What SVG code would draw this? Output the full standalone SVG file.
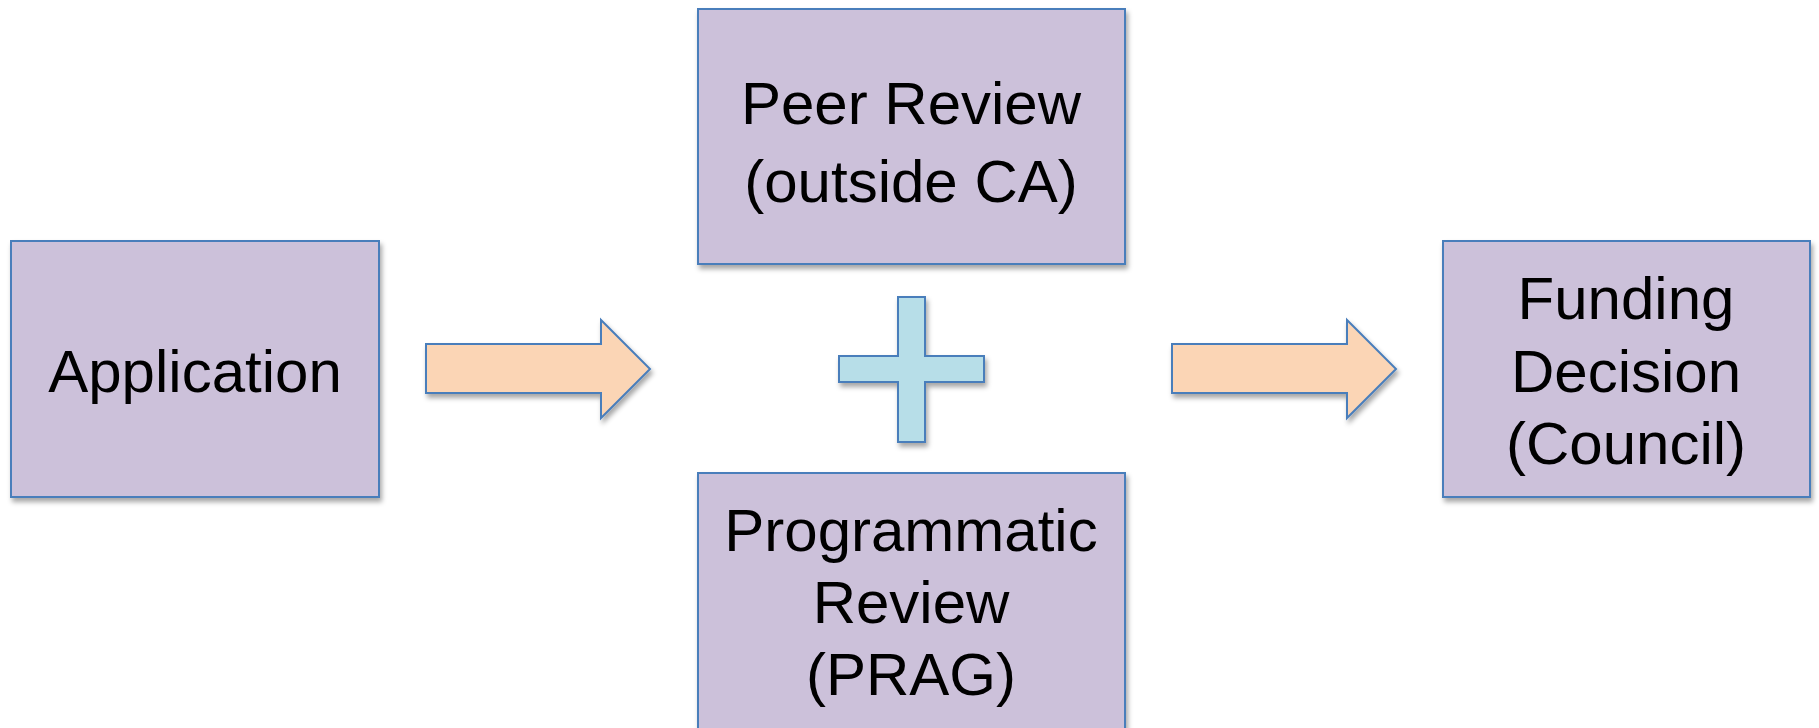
<svg xmlns="http://www.w3.org/2000/svg" width="1819" height="728" viewBox="0 0 1819 728">
  <defs>
    <filter id="sh" x="-10%" y="-10%" width="120%" height="130%">
      <feDropShadow dx="2" dy="4" stdDeviation="2.5" flood-color="#000" flood-opacity="0.35"/>
    </filter>
    <style>
      .box { fill: #CCC1DA; stroke: #4A7EBB; stroke-width: 2; filter: url(#sh); }
      .arrow { fill: #FBD5B5; stroke: #4A7EBB; stroke-width: 2; filter: url(#sh); }
      .plus { fill: #B7DEE8; stroke: #4A7EBB; stroke-width: 2; filter: url(#sh); }
      .lbl { font-family: "Liberation Sans", Arial, sans-serif; font-size: 60px; fill: #000; text-anchor: middle; }
    </style>
  </defs>
  <rect width="1819" height="728" fill="#fff"/>
  <g id="application">
    <rect class="box" x="11" y="241" width="368" height="256"/>
    <text class="lbl" x="195" y="392">Application</text>
  </g>
  <g id="peer-review">
    <rect class="box" x="698" y="9" width="427" height="255"/>
    <text class="lbl" x="911" y="124">Peer Review</text>
    <text class="lbl" x="911" y="202">(outside CA)</text>
  </g>
  <g id="programmatic-review">
    <rect class="box" x="698" y="473" width="427" height="270"/>
    <text class="lbl" x="911" y="551">Programmatic</text>
    <text class="lbl" x="911" y="623">Review</text>
    <text class="lbl" x="911" y="695">(PRAG)</text>
  </g>
  <g id="funding-decision">
    <rect class="box" x="1443" y="241" width="367" height="256"/>
    <text class="lbl" x="1626" y="319">Funding</text>
    <text class="lbl" x="1626" y="392">Decision</text>
    <text class="lbl" x="1626" y="464">(Council)</text>
  </g>
  <g id="connectors">
    <polygon class="arrow" points="426,344 601,344 601,320 650,369 601,418 601,393 426,393"/>
    <polygon class="plus" points="898,297 925,297 925,356 984,356 984,382 925,382 925,442 898,442 898,382 839,382 839,356 898,356"/>
    <polygon class="arrow" points="1172,344 1347,344 1347,320 1396,369 1347,418 1347,393 1172,393"/>
  </g>
</svg>
